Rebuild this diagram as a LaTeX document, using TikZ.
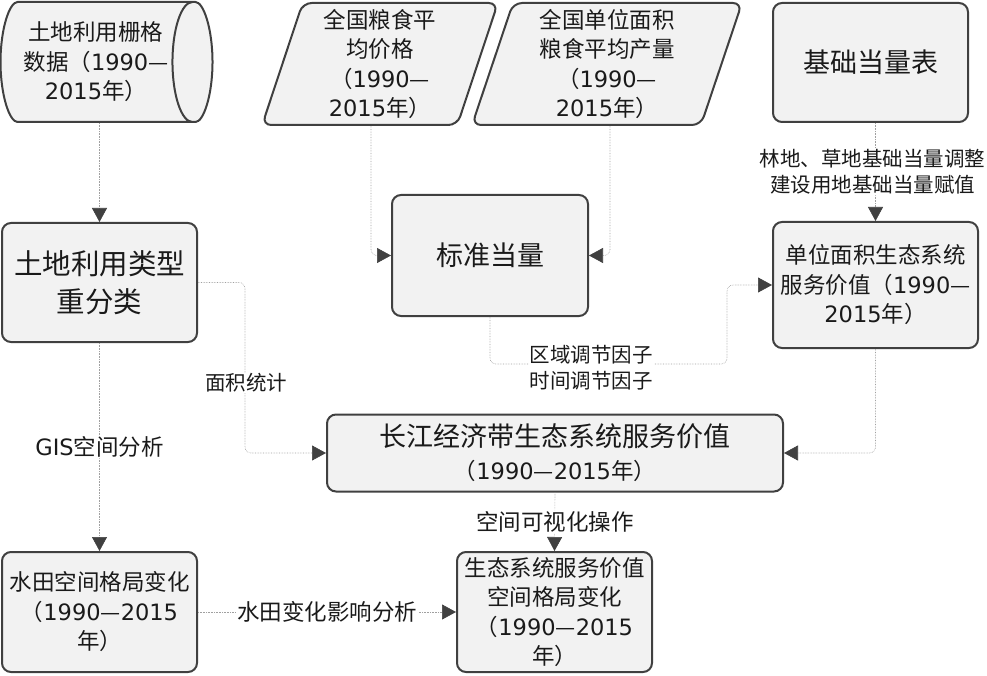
\documentclass[tikz,border=0pt]{standalone}
\usepackage{fontspec}
\setmainfont{Noto Sans CJK SC}
\newfontfamily\lat{DejaVu Sans}
\usetikzlibrary{shapes.geometric,arrows.meta}
\definecolor{boxfill}{HTML}{F2F2F2}
\definecolor{boxline}{HTML}{404040}
\definecolor{linkline}{HTML}{A0A0A0}
\definecolor{txt}{HTML}{1A1A1A}

\begin{document}
\begin{tikzpicture}[x=1pt, y=-1pt,
  box/.style={draw=boxline, fill=boxfill, line width=2pt, rounded corners=9pt, align=center, inner sep=0pt, text=txt},
  big/.style={font=\fontsize{27}{33}\selectfont},
  mid/.style={font=\fontsize{22.5}{29.5}\selectfont},
  para/.style={trapezium, trapezium left angle=75, trapezium right angle=105, trapezium stretches=true, minimum width=236, minimum height=122},
  tag/.style={fill=white, align=center, inner sep=1pt, text=txt, font=\fontsize{20.5}{26}\selectfont},
  bigtag/.style={tag, font=\fontsize{22.5}{28}\selectfont},
  link/.style={draw=linkline, line width=0.6pt, densely dotted, rounded corners=6pt, -{Triangle[length=14pt, width=15pt, color=boxline]}}]
  \useasboundingbox (0,0) rectangle (987,676);

  \node[box, mid, cylinder, shape border rotate=0, aspect=0.5, minimum width=120, minimum height=212, rounded corners=3pt] (raster) at (96,62) {土地利用栅格\\数据（{\lat 1990}—\\{\lat 2015}年）};
  \node[box, mid, para] (price) at (380,64) {全国粮食平\\均价格\\（{\lat 1990}—\\{\lat 2015}年）};
  \node[box, mid, para, minimum width=270] (yield) at (607,64) {全国单位面积\\粮食平均产量\\（{\lat 1990}—\\{\lat 2015}年）};
  \node[box, big, minimum width=195, minimum height=119] (base) at (870.5,62.5) {基础当量表};

  \node[box, font=\fontsize{28.5}{38}\selectfont, minimum width=195, minimum height=119] (reclass) at (99.5,282.5) {土地利用类型\\重分类};
  \node[box, big, minimum width=196, minimum height=121] (std) at (490,255.5) {标准当量};
  \node[box, mid, minimum width=205, minimum height=126] (unit) at (875.5,285) {单位面积生态系统\\服务价值（{\lat 1990}—\\{\lat 2015}年）};

  \node[box, big, minimum width=456, minimum height=77] (esv) at (555,453) {长江经济带生态系统服务价值\\{\fontsize{22.5}{29}\selectfont（{\lat 1990}—{\lat 2015}年）}};

  \node[box, mid, minimum width=195, minimum height=120] (paddy) at (99.5,612) {水田空间格局变化\\（{\lat 1990}—{\lat 2015}\\年）};
  \node[box, mid, minimum width=195, minimum height=120] (pattern) at (554.5,612) {生态系统服务价值\\空间格局变化\\（{\lat 1990}—{\lat 2015}\\年）};

  \coordinate (turn) at (727,364);
  \coordinate (area) at (245,453);

  \draw[link] (reclass.north |- raster.south) -- (reclass.north);
  \draw[link] ([xshift=-9pt]price.south) |- (std.west);
  \draw[link] ([xshift=3pt]yield.south) |- (std.east);
  \draw[link] (unit.north |- base.south) -- node[tag, xshift=-3pt] {林地、草地基础当量调整\\建设用地基础当量赋值} (unit.north);
  \draw[link] (std.south) |- (turn) |- (unit.west);
  \node[tag] (factor) at (591,368) {区域调节因子\\时间调节因子};
  \draw[link] (reclass.east) -| (area) -- (esv.west);
  \node[tag] (arealab) at (246,383) {面积统计};
  \draw[link] (unit.south) |- (esv.east);
  \draw[link] (reclass.south) -- node[bigtag] {{\lat GIS}空间分析} (paddy.north);
  \draw[link] (esv.south) -- node[bigtag] {空间可视化操作} (pattern.north);
  \draw[link] (paddy.east) -- node[bigtag] {水田变化影响分析} (pattern.west);
\end{tikzpicture}
\end{document}
